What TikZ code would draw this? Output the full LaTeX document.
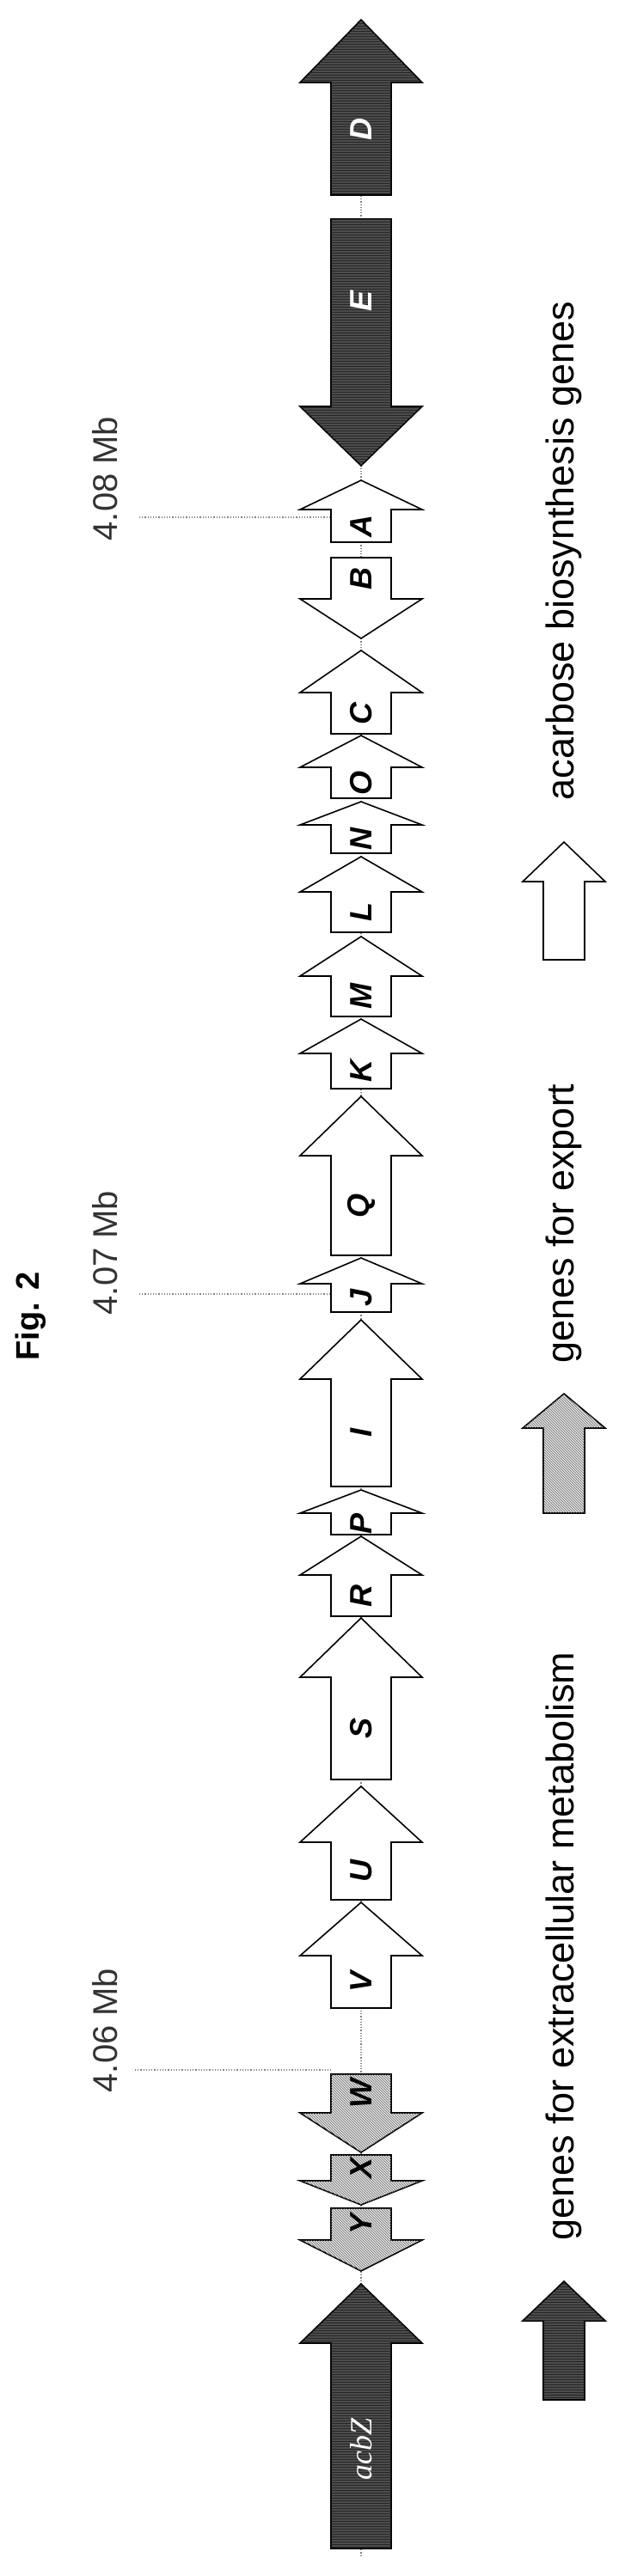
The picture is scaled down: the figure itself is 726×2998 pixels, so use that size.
\documentclass[tikz,border=0pt]{standalone}
\usepackage{fontspec}
\setmainfont{Liberation Sans}
\newfontfamily\serifface{Liberation Serif}
\usetikzlibrary{patterns}

\newcommand{\geneup}[7]{% x, tip, base, bottom, style, label, name
  \draw[#5] (#1,-#2) -- (#1+71,-#3) -- (#1+35,-#3) -- (#1+35,-#4)
    -- (#1-35,-#4) -- (#1-35,-#3) -- (#1-71,-#3) -- cycle;
  \node[gene label, rotate=90] (#7) at (#1,{-(#3+#4)/2}) {#6};}
\newcommand{\genedown}[7]{% x, top, base, tip, style, label, name
  \draw[#5] (#1,-#4) -- (#1+71,-#3) -- (#1+35,-#3) -- (#1+35,-#2)
    -- (#1-35,-#2) -- (#1-35,-#3) -- (#1-71,-#3) -- cycle;
  \node[gene label, rotate=90] (#7) at (#1,{-(#2+#3)/2}) {#6};}
\newcommand{\legendarrow}[5]{% x, tip, base, bottom, style
  \draw[#5] (#1,-#2) -- (#1+48,-#3) -- (#1+24,-#3) -- (#1+24,-#4)
    -- (#1-24,-#4) -- (#1-24,-#3) -- (#1-48,-#3) -- cycle;}

\tikzset{
  x=1pt, y=1pt,
  biosynth/.style={draw=black, line width=1.6pt, fill=white, line join=miter},
  export/.style={draw=black, line width=1.6pt, fill=gray!20,
    postaction={pattern=north west lines, pattern color=gray!80!black}},
  extracell/.style={draw=black, line width=1.6pt, fill=gray!60!black,
    postaction={pattern=horizontal lines, pattern color=gray!30!black}},
  gene label/.style={font=\fontsize{36}{40}\selectfont\bfseries\itshape, inner sep=0pt},
  white label/.style={gene label, text=white},
  mb label/.style={font=\fontsize{40}{44}\selectfont, text=black!80, rotate=90, inner sep=0pt},
  legend text/.style={font=\fontsize{45}{50}\selectfont, rotate=90, inner sep=0pt},
  mb line/.style={gray, dotted, line width=1.2pt},
}

\begin{document}
\begin{tikzpicture}
  \useasboundingbox (0,0) rectangle (726,-2998);

  % backbone
  \draw[mb line] (420,-228) -- (420,-2975);

  % gene cluster
  \geneup{420}{23}{96}{227}{extracell}{}{D}
  \node[white label, rotate=90] at (420,-150) {D};
  \genedown{420}{255}{473}{542}{extracell}{}{E}
  \node[white label, rotate=90] at (420,-350) {E};
  \geneup{420}{559}{593}{631}{biosynth}{A}{A}
  \genedown{420}{649}{697}{743}{biosynth}{B}{B}
  \geneup{420}{757}{806}{854}{biosynth}{C}{C}
  \geneup{420}{856}{893}{929}{biosynth}{O}{O}
  \geneup{420}{933}{960}{993}{biosynth}{N}{N}
  \geneup{420}{997}{1038}{1085}{biosynth}{L}{L}
  \geneup{420}{1090}{1136}{1183}{biosynth}{M}{M}
  \geneup{420}{1186}{1226}{1267}{biosynth}{K}{K}
  \geneup{420}{1276}{1345}{1461}{biosynth}{Q}{Q}
  \geneup{420}{1464}{1494}{1527}{biosynth}{J}{J}
  \geneup{420}{1536}{1605}{1730}{biosynth}{I}{I}
  \geneup{420}{1734}{1761}{1786}{biosynth}{P}{P}
  \geneup{420}{1788}{1833}{1881}{biosynth}{R}{R}
  \geneup{420}{1883}{1952}{2071}{biosynth}{S}{S}
  \geneup{420}{2079}{2144}{2211}{biosynth}{U}{U}
  \geneup{420}{2214}{2276}{2337}{biosynth}{V}{V}
  \genedown{420}{2414}{2459}{2505}{export}{W}{W}
  \genedown{420}{2508}{2538}{2566}{export}{X}{X}
  \genedown{420}{2570}{2607}{2643}{export}{Y}{Y}
  \geneup{420}{2658}{2727}{2966}{extracell}{}{Z}
  \node[rotate=90, text=white, font=\fontsize{36}{40}\selectfont\serifface\itshape]
    at (420,-2850) {acbZ};

  % positions
  \node[font=\fontsize{38}{42}\selectfont\bfseries, rotate=90] (fig) at (36,-1532) {Fig. 2};
  \node[mb label] (mb8) at (122,-557) {4.08 Mb};
  \node[mb label] (mb7) at (122,-1458) {4.07 Mb};
  \node[mb label] (mb6) at (122,-2363) {4.06 Mb};
  \coordinate (m8) at (162,-602);
  \coordinate (m7) at (162,-1506);
  \coordinate (m6) at (157,-2409);
  \draw[mb line] (m8) -- (385,-602);
  \draw[mb line] (m7) -- (385,-1506);
  \draw[mb line] (m6) -- (385,-2409);

  % legend
  \legendarrow{656}{980}{1026}{1117}{biosynth}
  \node[legend text] (leg1) at (656,-641) {acarbose biosynthesis genes};
  \legendarrow{656}{1622}{1662}{1761}{export}
  \node[legend text] (leg2) at (656,-1424) {genes for export};
  \legendarrow{656}{2655}{2701}{2793}{extracell}
  \node[legend text] (leg3) at (656,-2265) {genes for extracellular metabolism};
\end{tikzpicture}
\end{document}
